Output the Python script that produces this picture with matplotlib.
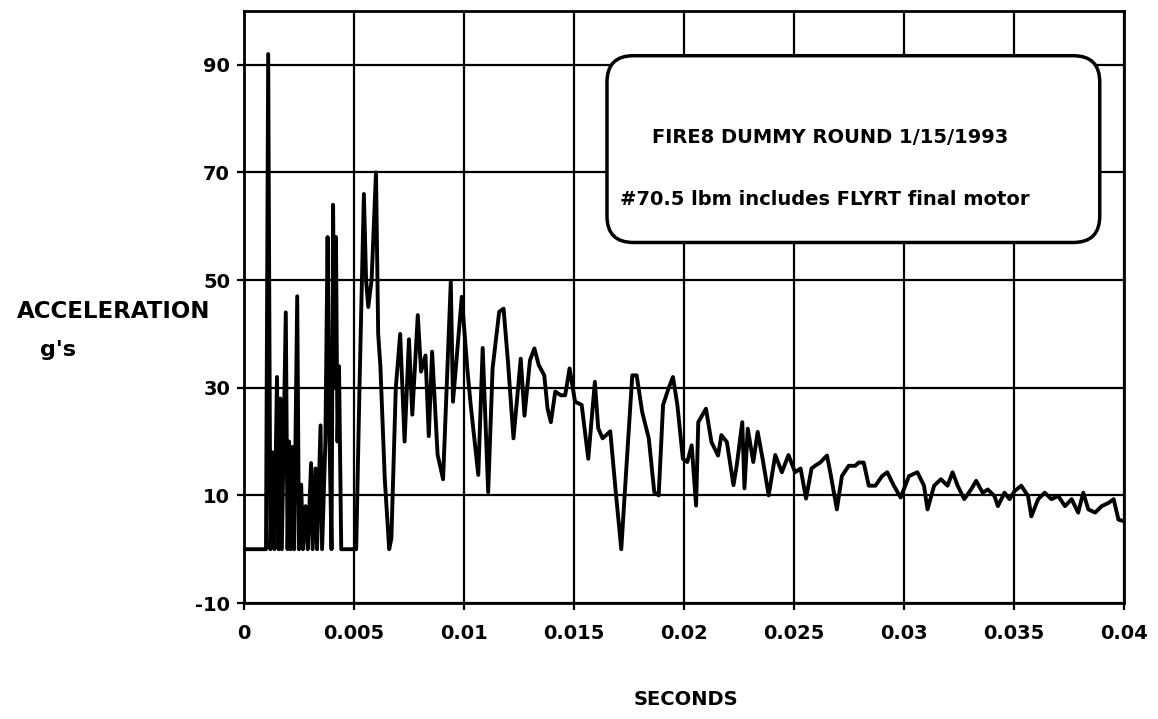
import matplotlib
matplotlib.use("Agg")
import matplotlib.pyplot as plt
from matplotlib.patches import FancyBboxPatch

# time in milliseconds (converted to seconds below)
time_ms = [0.0, 0.5, 0.95, 1.00, 1.10, 1.20, 1.30, 1.38, 1.50, 1.58, 1.65, 1.72, 1.90, 1.98,
           2.05, 2.12, 2.20, 2.28, 2.42, 2.50, 2.60, 2.68, 2.80, 2.90, 3.05, 3.12, 3.25, 3.32,
           3.48, 3.55, 3.70, 3.80, 3.88, 3.98, 4.05, 4.12, 4.18, 4.25, 4.32, 4.42, 4.50, 5.10,
           5.25, 5.45, 5.55, 5.65, 5.80, 6.00, 6.10, 6.20, 6.40, 6.60, 6.70, 6.90, 7.10, 7.30,
           7.50, 7.65, 7.90, 8.05, 8.25, 8.40, 8.55, 8.80, 9.05, 9.40, 9.50, 9.90, 10.15, 10.30,
           10.65, 10.85, 11.10, 11.30, 11.60, 11.80, 12.00, 12.25, 12.58, 12.75, 13.00, 13.20,
           13.40, 13.65, 13.80, 13.95, 14.15, 14.40, 14.60, 14.80, 15.05, 15.35, 15.65, 15.95,
           16.10, 16.30, 16.65, 16.90, 17.15, 17.35, 17.65, 17.85, 18.10, 18.40, 18.65, 18.85,
           19.05, 19.30, 19.50, 19.70, 19.95, 20.15, 20.35, 20.55, 20.65, 21.00, 21.25, 21.55,
           21.70, 21.95, 22.25, 22.40, 22.65, 22.75, 22.90, 23.15, 23.35, 23.60, 23.85, 24.15,
           24.45, 24.75, 25.05, 25.30, 25.55, 25.80, 25.96, 26.19, 26.50, 26.65, 26.95, 27.18,
           27.49, 27.79, 27.94, 28.17, 28.40, 28.70, 29.01, 29.24, 29.54, 29.85, 30.23, 30.61,
           30.91, 31.07, 31.37, 31.68, 31.98, 32.21, 32.44, 32.74, 33.05, 33.28, 33.58, 33.81,
           34.11, 34.27, 34.57, 34.80, 35.03, 35.33, 35.64, 35.79, 36.10, 36.40, 36.70, 37.01,
           37.32, 37.62, 37.92, 38.15, 38.38, 38.69, 38.99, 39.30, 39.53, 39.75, 40.00]
accel_g = [0.0, 0.0, 0.0, 0.0, 92.0, 0.0, 18.0, 0.0, 32.0, 0.0, 28.0, 0.0, 44.0, 0.0,
           20.0, 0.0, 19.0, 0.0, 47.0, 0.0, 12.0, 0.0, 8.0, 0.0, 16.0, 0.0, 15.0, 0.0,
           23.0, 0.0, 20.0, 58.0, 22.0, 0.0, 64.0, 30.0, 58.0, 20.0, 34.0, 0.0, 0.0, 0.0,
           30.0, 66.0, 50.0, 45.0, 50.0, 70.0, 40.0, 34.0, 13.0, 0.0, 2.0, 30.0, 40.0, 20.0,
           39.0, 25.0, 43.5, 33.0, 36.0, 21.0, 36.7, 17.6, 13.0, 49.7, 27.4, 46.9, 33.6, 27.0,
           13.8, 37.4, 10.6, 33.6, 44.1, 44.7, 34.8, 20.6, 35.4, 24.8, 35.1, 37.3,
           34.2, 32.3, 26.1, 23.6, 29.3, 28.6, 28.6, 33.6, 27.4, 26.8, 16.8, 31.1,
           22.5, 20.6, 21.9, 10.6, 0.0, 13.1, 32.3, 32.3, 25.5, 20.6, 10.6, 10.0,
           26.8, 29.9, 32.0, 26.8, 16.8, 16.2, 19.3, 8.1, 23.6, 26.1, 19.9, 17.4,
           21.2, 19.9, 11.9, 15.6, 23.6, 11.3, 22.4, 16.2, 21.8, 16.2, 10.0, 17.5,
           14.3, 17.5, 14.3, 15.0, 9.4, 15.0, 15.5, 16.1, 17.4, 14.3, 7.4, 13.6,
           15.5, 15.5, 16.1, 16.1, 11.8, 11.8, 13.6, 14.3, 11.8, 9.6, 13.6, 14.3,
           11.8, 7.4, 11.8, 13.0, 11.8, 14.3, 11.8, 9.3, 11.1, 12.7, 10.5, 11.1,
           9.9, 8.0, 10.5, 9.3, 10.8, 11.8, 9.9, 6.1, 9.3, 10.5, 9.3, 9.9,
           8.0, 9.3, 6.8, 10.5, 7.4, 6.8, 8.0, 8.6, 9.3, 5.5, 5.2]

x_ticks = [0, 0.005, 0.01, 0.015, 0.02, 0.025, 0.03, 0.035, 0.04]
x_tick_labels = ["0", "0.005", "0.01", "0.015", "0.02", "0.025", "0.03", "0.035", "0.04"]
y_ticks = [-10, 10, 30, 50, 70, 90]
y_tick_labels = ["-10", "10", "30", "50", "70", "90"]
note_lines = ["FIRE8 DUMMY ROUND 1/15/1993", "#70.5 lbm includes FLYRT final motor"]

time_s = [t / 1000.0 for t in time_ms]

plt.rcParams['font.family'] = ['DejaVu Sans']
fig = plt.figure(figsize=(11.58, 7.19), dpi=100)
ax = fig.add_axes([0.2107, 0.1613, 0.7599, 0.8234])

ax.plot(time_s, accel_g, color='black', lw=2.8, solid_joinstyle='round', zorder=3)

ax.set_xlim(0, 0.04)
ax.set_ylim(-10, 100)
ax.set_xticks(x_ticks)
ax.set_xticklabels(x_tick_labels)
ax.set_yticks(y_ticks)
ax.set_yticklabels(y_tick_labels)
ax.grid(True, color='black', lw=1.6)
ax.set_axisbelow(True)
for s in ax.spines.values():
    s.set_linewidth(2)
ax.tick_params(axis='both', direction='out', length=5, width=1.6, labelsize=14)
ax.tick_params(axis='x', pad=10)
ax.tick_params(axis='y', pad=5)
for lab in ax.get_xticklabels() + ax.get_yticklabels():
    lab.set_fontweight('bold')

fig.text(0.5924, 0.027, "SECONDS", ha='center', va='center', fontsize=14, fontweight='bold')
fig.text(0.098, 0.567, "ACCELERATION", ha='center', va='center', fontsize=16.5, fontweight='bold')
fig.text(0.05, 0.513, "g's", ha='center', va='center', fontsize=16, fontweight='bold')

aw, ah = 880, 592
box = FancyBboxPatch((0.4125, 0.609), 0.56, 0.3155, boxstyle="round,pad=0,rounding_size=0.03",
                     transform=ax.transAxes, mutation_aspect=aw / ah,
                     facecolor='white', edgecolor='black', lw=2.5, zorder=4)
ax.add_patch(box)
ax.text(0.464, 0.786, note_lines[0], transform=ax.transAxes, ha='left', va='center',
        fontsize=14, fontweight='bold', zorder=5)
ax.text(0.427, 0.682, note_lines[1], transform=ax.transAxes, ha='left', va='center',
        fontsize=14, fontweight='bold', zorder=5)

fig.savefig("out.png", dpi=100)
